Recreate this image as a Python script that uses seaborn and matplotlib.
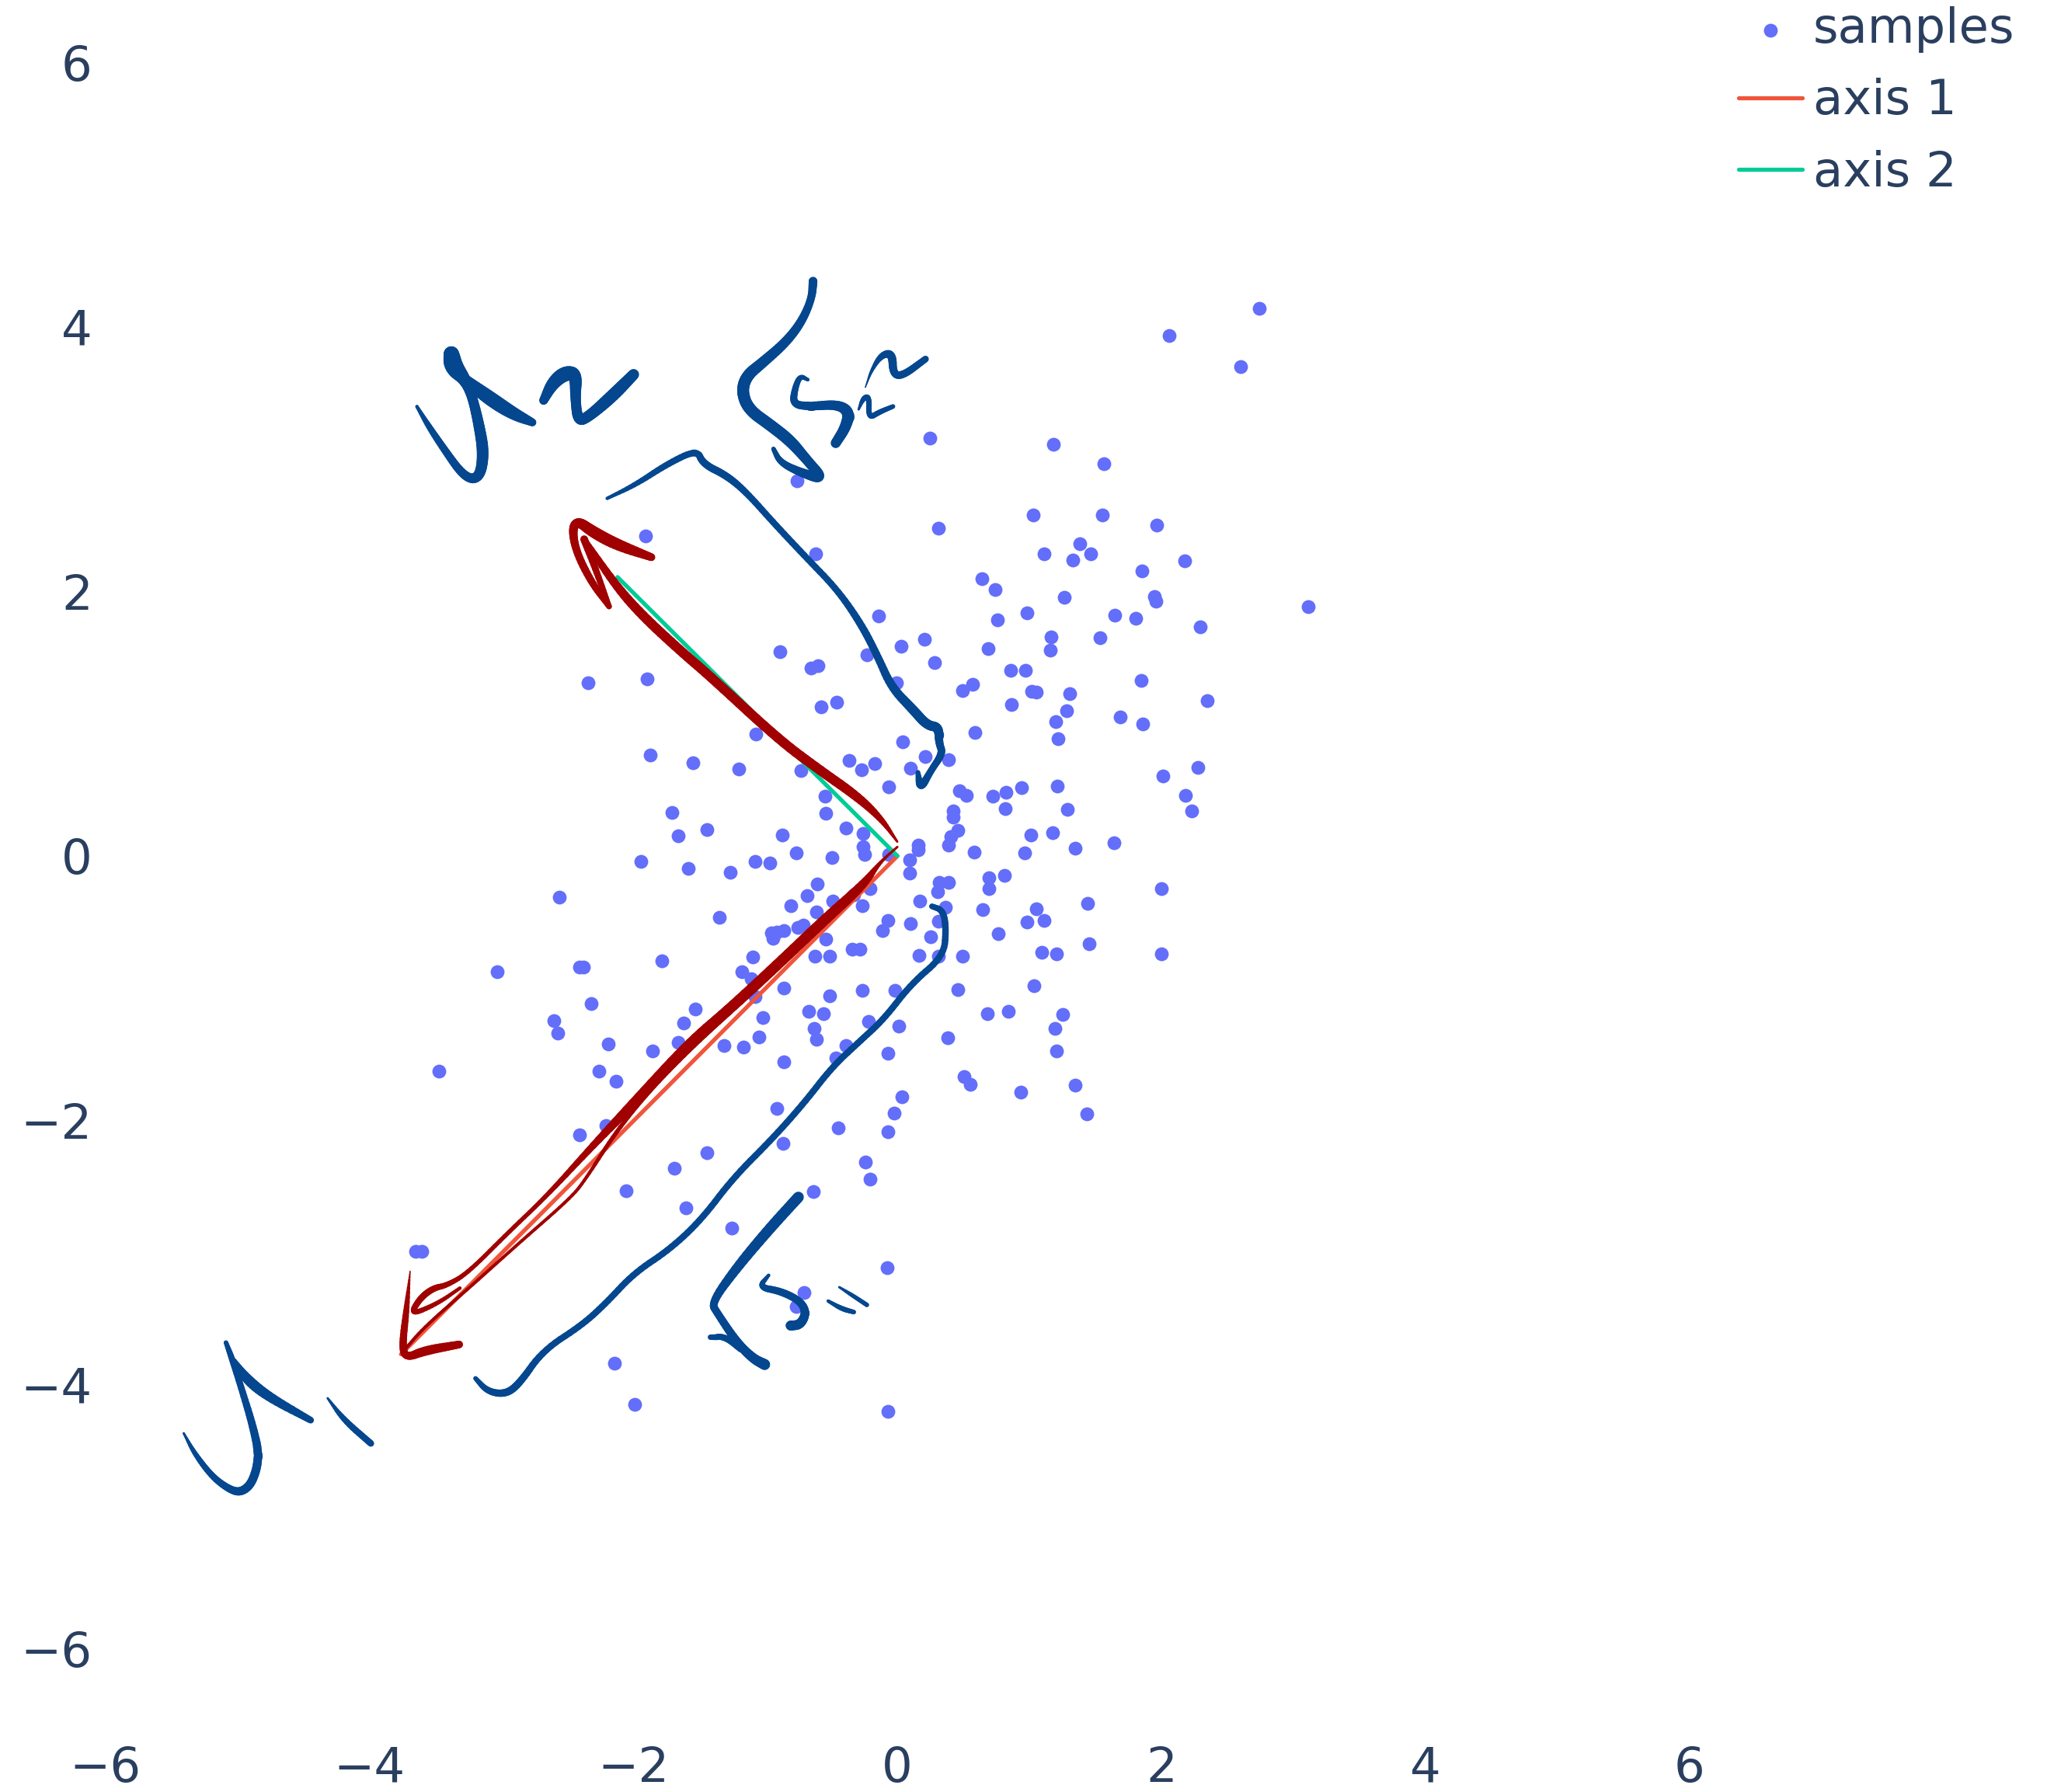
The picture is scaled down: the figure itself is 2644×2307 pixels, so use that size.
import numpy as np
import pandas as pd
import matplotlib
matplotlib.use("Agg")
import matplotlib.pyplot as plt
from matplotlib.collections import LineCollection
import seaborn as sns

# scatter samples
sample_x = [
    0.248, 1.181, 1.566, -0.761, 1.031, 1.551, 1.962, 0.308, -0.617, 1.383, 1.112, 1.464, 1.329, 2.178,
    1.851, 0.641, 0.740, 1.265, 1.944, 1.956, 3.112, 0.980, -0.142, 1.647, 1.806, 0.755, 2.292, 1.533,
    1.163, 1.160, 0.203, 0.026, 0.689, -0.233, -0.887, 0.281, -0.602, -0.653, 0.860, 0.971, -0.007, 1.845,
    0.569, 0.494, 1.019, 1.052, 1.304, 2.346, 0.866, -0.461, -0.578, 1.280, 1.686, 1.860, 1.200, 1.214,
    0.587, 0.041, 0.212, 0.386, -0.368, -0.173, -0.269, 0.098, -0.728, 2.010, 2.277, 2.181, 2.229,
    2.74, 2.06, 2.60, -1.905, -2.341, -1.895, -1.071, -1.875, -1.548, -1.200,
    -1.706, -1.658, -1.442, -0.874, -0.550, -0.544, -0.388, -0.259, -0.262, -0.250, -0.496, -0.769,
    -1.943, -1.583, -1.265, -1.076, -0.965, -0.610, -0.682, -0.805, -0.613, -0.487, -0.328, -0.268,
    -0.208, -0.064, 0.095, 0.095, 0.155, 0.155, -0.064, 0.170, 0.389, 0.317, 0.302, 0.362, -0.073,
    -0.112, 0.098, 0.311, 0.251, 0.161, 0.311, 0.494, 0.458, -0.019, -0.265, -0.511, -0.862, -0.343,
    -0.283, -0.625, -0.511, -0.544, -0.715, -0.757, -0.859, -0.913, -0.955, -0.940, -1.346, -2.559,
    -1.784, -3.030, -2.410, -2.380, -1.096, -1.181, -1.109, -1.079, -1.532, -1.622, -1.658, -1.856,
    -1.316, -1.169, -1.049, -1.022, -0.673, -0.559, -0.628, -0.613, -0.220, 0.011, -0.388, -0.466,
    -0.859, -0.073, 0.384, 0.680, 0.843, 1.032, 1.254, 1.194, 1.203, 0.504, 0.549, 0.933, 1.344, 1.437,
    0.035, -0.022, -0.070, -0.448, -0.865, -0.913, -0.244, -0.208, -0.637, -1.445, -1.691, -2.057,
    -1.600, -1.253, -0.079, -0.709, -0.769, -2.141, -1.990, -2.207, -2.405, -2.192, -2.258, -2.132,
    -2.318, -2.604, -2.571, 0.645, 0.762, 0.984, 1.110, 1.053, 1.092, 1.206, 1.443, 1.452, 0.471, 0.521,
    0.720, 0.822, 0.939, 1.209, 1.290, 0.819, 0.425, 0.425, 0.458, 0.404, 0.386, 0.582, 1.008, 1.173,
    0.966, 1.347, 0.693, 0.693, 0.810, 1.640, 2.000, 2.000, -3.470, -3.650, -3.600, -0.070,
]
sample_y = [
    3.163, 3.116, 2.969, 2.840, 2.582, 2.577, 2.501, 2.480, 2.283, 2.362, 2.286, 2.286, 2.238, 2.233,
    2.154, 2.096, 2.015, 1.955, 1.960, 1.928, 1.886, 1.842, 1.815, 1.823, 1.800, 1.786, 1.736, 1.650,
    1.658, 1.560, 1.637, 1.589, 1.571, 1.524, 1.545, 1.461, 1.437, 1.419, 1.403, 1.406, 1.311, 1.329,
    1.300, 1.253, 1.248, 1.237, 1.227, 1.174, 1.143, 1.161, 1.127, 1.101, 1.053, 1.000, 1.014, 0.888,
    0.935, 0.864, 0.754, 0.728, 0.720, 0.701, 0.652, 0.665, 0.646, 0.607, 0.667, 0.457, 0.339,
    4.14, 3.94, 3.70, 2.420, 1.310, 1.340, 0.923, 0.764, 0.704, 0.655,
    0.327, 0.150, 0.198, 0.156, 0.453, 0.324, 0.213, 0.171, 0.069, 0.009, -0.012, 0.024,
    -0.039, -0.096, -0.126, -0.042, -0.051, -0.210, -0.300, -0.376, -0.421, -0.343, -0.292, -0.379,
    -0.247, 0.522, -0.030, -0.130, 0.084, 0.048, 0.009, -0.343, -0.200, -0.200, -0.270, -0.391, -0.487,
    -0.562, -0.511, -0.493, -0.610, -0.754, -0.757, -0.757, -1.012, -1.018, -1.015, -1.060, -0.997, -0.703,
    -0.703, -0.760, -0.760, -0.628, -0.523, -0.541, -0.565, -0.577, -0.583, -0.625, -0.466, -0.313,
    -0.793, -0.874, -0.841, -0.841, -0.763, -0.877, -0.928, -1.066, -1.156, -1.264, -1.408, -1.477,
    -1.435, -1.447, -1.369, -1.225, -1.177, -1.192, -1.303, -1.390, -1.255, -1.288, -1.432, -1.528,
    -1.555, -1.492, -1.378, -1.192, -1.177, -0.982, -1.201, -1.303, -1.477, -1.672, -1.730, -1.784, -1.733, -1.952,
    -1.823, -1.946, -2.087, -2.057, -2.174, -1.910, -2.318, -2.444, -2.540, -2.246, -2.360, -2.531,
    -2.660, -2.816, -3.116, -3.303, -3.408, -3.840, -4.150, -2.042, -2.108, -1.423, -1.630, -1.702,
    -1.117, -1.249, -1.342, -0.403, -0.589, -0.502, -0.490, -0.400, -0.727, -0.739, -0.360, -0.667, 0.495, 0.459,
    0.450, 0.480, 0.519, 0.528, 0.354, 0.357, 0.339, 0.294, 0.195, 0.144, 0.081, 0.027, 0.156, 0.177,
    0.024, 0.057, -0.166, -0.246, -0.150, 0.100, -0.250, -0.740, -1.630, -2.990, -2.990, -4.200,
]

# the two plotted axes
axis1_x = [0.0, -3.76]
axis1_y = [0.0, -3.77]
axis2_x = [0.0, -2.12]
axis2_y = [0.0, 2.11]

tick_values = [-6, -4, -2, 0, 2, 4, 6]

# pen strokes drawn over the chart: (x, y, width in px)
blue_strokes = [
    # nu 2
    ([-3.640, -3.544, -3.424, -3.304, -3.214, -3.154, -3.136, -3.169, -3.220, -3.274, -3.364, -3.379],
     [3.401, 3.241, 3.064, 2.897, 2.844, 2.897, 3.064, 3.260, 3.476, 3.603, 3.701, 3.799],
     [3, 6, 7, 8, 9, 10, 11, 10, 9, 11, 18, 14]),
    ([-3.274, -3.094, -2.914, -2.764], [3.603, 3.466, 3.348, 3.280], [10, 14, 12, 7]),
    ([-2.680, -2.614, -2.524, -2.434, -2.440, -2.419, -2.344, -2.163, -1.998],
     [3.446, 3.574, 3.652, 3.652, 3.456, 3.290, 3.319, 3.476, 3.643],
     [8, 12, 14, 12, 9, 10, 10, 12, 10]),
    # root of s22
    ([-0.639, -0.648, -0.723, -0.843, -1.023, -1.143, -1.179, -1.128, -0.963, -0.813, -0.693, -0.558, -0.723, -0.888, -0.939],
     [4.349, 4.221, 4.045, 3.888, 3.731, 3.633, 3.515, 3.378, 3.260, 3.143, 3.005, 2.848, 2.897, 2.976, 3.080],
     [8, 7, 8, 9, 10, 11, 11, 11, 11, 11, 9, 10, 8, 6, 4]),
    ([-0.678, -0.738, -0.777, -0.792, -0.663, -0.453, -0.363, -0.393, -0.468],
     [3.603, 3.633, 3.535, 3.417, 3.401, 3.417, 3.358, 3.241, 3.123],
     [3, 5, 6, 7, 8, 9, 11, 10, 9]),
    ([-0.294, -0.258, -0.213, -0.219, -0.138, -0.033], [3.378, 3.466, 3.476, 3.309, 3.358, 3.401], [2, 5, 5, 5, 5, 4]),
    ([-0.243, -0.198, -0.123, -0.039, -0.033, 0.042, 0.213], [3.545, 3.672, 3.790, 3.805, 3.643, 3.633, 3.760], [1, 3, 6, 8, 7, 7, 6]),
    # upper bracket
    ([-2.199, -1.983, -1.743, -1.518, -1.473, -1.293, -1.143, -0.933, -0.693, -0.453, -0.272, -0.151, -0.046, 0.119, 0.224, 0.314, 0.314, 0.344, 0.254, 0.173, 0.155],
     [2.705, 2.809, 2.966, 3.074, 2.966, 2.878, 2.750, 2.515, 2.260, 2.012, 1.749, 1.513, 1.277, 1.106, 0.988, 0.975, 0.856, 0.778, 0.646, 0.502, 0.633],
     [3, 5, 6, 6, 7, 7, 6, 6, 6, 6, 7, 7, 8, 9, 9, 9, 7, 7, 6, 8, 4]),
    # lower bracket
    ([0.261, 0.345, 0.369, 0.351, 0.105, -0.105, -0.285, -0.495, -0.705, -0.945, -1.245, -1.485, -1.725, -1.996, -2.206, -2.386, -2.686, -2.866, -2.971, -3.106, -3.196],
     [-0.381, -0.411, -0.546, -0.757, -0.967, -1.237, -1.402, -1.597, -1.867, -2.137, -2.437, -2.752, -2.977, -3.157, -3.382, -3.547, -3.742, -3.997, -4.073, -4.051, -3.952],
     [5, 6, 6, 6, 6, 6, 6, 6, 6, 6, 6, 6, 6, 6, 6, 6, 6, 7, 7, 6, 4]),
    # root of s11
    ([-0.750, -0.975, -1.215, -1.410, -1.365, -1.215, -1.095, -1.005],
     [-2.581, -2.827, -3.112, -3.382, -3.457, -3.682, -3.802, -3.848],
     [10, 10, 9, 7, 7, 8, 9, 10]),
    ([-1.419, -1.305, -1.185], [-3.637, -3.637, -3.727], [5, 6, 7]),
    ([-0.975, -1.050, -0.885, -0.735, -0.690, -0.735, -0.810], [-3.172, -3.263, -3.292, -3.367, -3.457, -3.547, -3.553], [3, 6, 7, 7, 8, 9, 9]),
    ([-0.441, -0.345, -0.231], [-3.262, -3.322, -3.397], [2, 4, 4]),
    ([-0.525, -0.420, -0.330], [-3.367, -3.427, -3.451], [3, 5, 4]),
    # nu 1
    ([-5.406, -5.322, -5.187, -5.052, -4.967, -4.883, -4.832, -4.883, -4.967, -5.035, -5.086],
     [-4.367, -4.524, -4.700, -4.798, -4.814, -4.739, -4.543, -4.308, -4.033, -3.818, -3.681],
     [2, 5, 6, 7, 8, 8, 8, 7, 6, 6, 4]),
    ([-5.028, -4.934, -4.765, -4.444], [-3.818, -3.955, -4.092, -4.269], [5, 10, 9, 6]),
    ([-4.316, -4.191, -3.988], [-4.102, -4.269, -4.445], [2, 6, 6]),
]
red_strokes = [
    # arrow 1, heavy pass
    ([0.0, -0.135, -0.255, -0.555, -0.885, -1.275, -1.575, -1.996, -2.326, -2.656, -2.956, -3.256, -3.414, -3.515, -3.617, -3.691, -3.482, -3.313],
     [0.069, -0.051, -0.216, -0.486, -0.801, -1.162, -1.417, -1.867, -2.212, -2.572, -2.857, -3.157, -3.249, -3.269, -3.347, -3.475, -3.386, -3.269],
     [2, 3, 9, 10, 10, 10, 10, 9, 6, 4, 4, 4, 5, 6, 6, 5, 4, 3]),
    # arrow 1, thin return pass
    ([-1.275, -1.600, -1.900, -2.146, -2.356, -2.468, -2.873, -3.245, -3.583, -3.735],
     [-1.190, -1.490, -1.800, -2.107, -2.437, -2.582, -2.935, -3.269, -3.563, -3.739],
     [4, 4, 4, 4, 3, 3, 3, 3, 3, 3]),
    # arrow 1 head
    ([-3.691, -3.718, -3.752, -3.718, -3.583, -3.319], [-3.141, -3.426, -3.720, -3.798, -3.743, -3.696], [1, 6, 7, 7, 9, 7]),
    # arrow 2
    ([-0.001, -0.121, -0.302, -0.602, -0.902, -1.430, -1.623, -1.923, -2.133, -2.373],
     [0.108, 0.279, 0.449, 0.659, 0.883, 1.370, 1.534, 1.809, 2.044, 2.397],
     [2, 6, 9, 9, 9, 9, 9, 9, 8, 5]),
    ([-2.373, -2.283, -2.184], [2.397, 2.162, 1.887], [7, 6, 5]),
    ([-2.184, -2.314, -2.433, -2.464, -2.419, -2.313, -2.133, -1.863],
     [1.887, 2.064, 2.299, 2.476, 2.535, 2.456, 2.358, 2.260],
     [5, 7, 7, 8, 9, 11, 11, 7]),
]


def smooth(points, passes=3):
    # corner cutting so the pen strokes do not look like polylines
    pts = np.asarray(points, dtype=float)
    for _ in range(passes):
        q = 0.75 * pts[:-1] + 0.25 * pts[1:]
        r = 0.25 * pts[:-1] + 0.75 * pts[1:]
        mid = np.empty((2 * len(q), pts.shape[1]))
        mid[0::2] = q
        mid[1::2] = r
        pts = np.vstack([pts[0], mid, pts[-1]])
    return pts


def draw_stroke(ax, xs, ys, widths, color):
    pts = smooth(np.column_stack([xs, ys, widths]))
    segs = np.stack([pts[:-1, :2], pts[1:, :2]], axis=1)
    lc = LineCollection(segs, colors=color, linewidths=pts[:-1, 2] * 1.0,
                        capstyle="round", zorder=5)
    ax.add_collection(lc)


if __name__ == "__main__":
    sns.set_theme(style="white")
    plt.rcParams["font.family"] = ["DejaVu Sans"]
    text_color = "#2a3f5f"
    w, h = 2644, 2307

    fig = plt.figure(figsize=(w / 100, h / 100), dpi=100, facecolor="white")
    ax = fig.add_axes([135.5 / w, (h - 2225) / h, (w - 135.5) / w, 2225 / h])

    df = pd.DataFrame({"x": sample_x, "y": sample_y})
    sns.scatterplot(data=df, x="x", y="y", color="#636efa", s=165, linewidth=0, label="samples", ax=ax)
    sns.lineplot(x=axis1_x, y=axis1_y, sort=False, color="#ef553b", linewidth=3.8, label="axis 1", ax=ax)
    sns.lineplot(x=axis2_x, y=axis2_y, sort=False, color="#00cc96", linewidth=3.8, label="axis 2", ax=ax)

    for xs, ys, ws in blue_strokes:
        draw_stroke(ax, xs, ys, ws, "#04478f")
    for xs, ys, ws in red_strokes:
        draw_stroke(ax, xs, ys, ws, "#a00000")

    ax.set_xlim(-6, 8.76)
    ax.set_ylim(-6.6, 6.476)
    ax.set_xticks(tick_values)
    ax.set_yticks(tick_values)
    ax.set_xlabel("")
    ax.set_ylabel("")
    ax.tick_params(axis="y", length=0, labelsize=45, labelcolor=text_color, pad=12)
    ax.tick_params(axis="x", length=0, labelsize=45, labelcolor=text_color, pad=16)
    sns.despine(ax=ax, left=True, bottom=True, top=True, right=True)
    ax.grid(False)

    leg = ax.legend(loc="upper left", bbox_to_anchor=(2238 / w, 0.9964), bbox_transform=fig.transFigure,
                    frameon=False, fontsize=45, handlelength=1.31, handletextpad=0.22,
                    labelspacing=0.515, borderaxespad=0, borderpad=0)
    for t in leg.get_texts():
        t.set_color(text_color)

    fig.savefig("out.png", dpi=100)
